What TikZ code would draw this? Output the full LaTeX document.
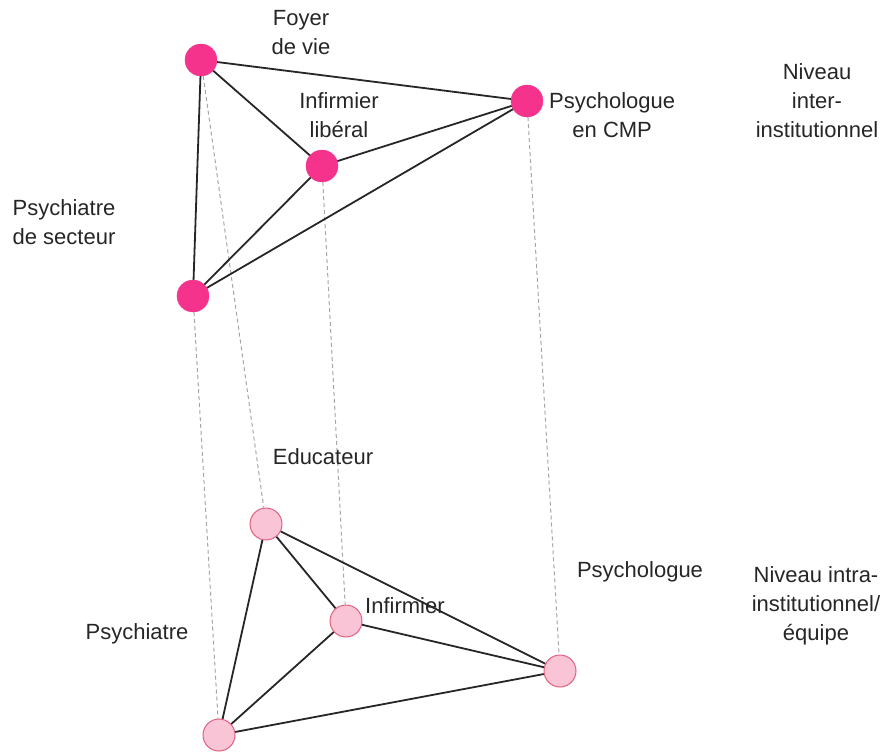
\documentclass[tikz,border=0pt]{standalone}
\usepackage{fontspec}
\setmainfont{Liberation Sans}
\begin{document}
\begin{tikzpicture}[x=1pt,y=-1pt,
  topn/.style={circle,fill=topfill,draw=topfill,minimum size=32pt,inner sep=0pt},
  botn/.style={circle,fill=botfill,draw=botdraw,line width=1pt,minimum size=32pt,inner sep=0pt},
  edge/.style={draw=black!85,line width=1.8pt},
  proj/.style={draw=gray!70,line width=1pt,dash pattern=on 4pt off 3pt},
  lbl/.style={font=\fontsize{22}{29}\selectfont,text=black!85,align=center,inner sep=0pt}]
\definecolor{topfill}{HTML}{F5338C}
\definecolor{botfill}{HTML}{F8C4D6}
\definecolor{botdraw}{HTML}{E0607E}
\useasboundingbox (0,0) rectangle (886,753);
% top level
\node[topn] (foyer) at (201,60) {};
\node[topn] (cmp) at (527,101) {};
\node[topn] (infl) at (322,166) {};
\node[topn] (psys) at (193,296) {};
% bottom level
\node[botn] (edu) at (266,524) {};
\node[botn] (inf) at (346,621) {};
\node[botn] (psyc) at (560,671) {};
\node[botn] (psyt) at (219,735) {};
% projections
\draw[proj] (foyer) -- (edu);
\draw[proj] (infl) -- (inf);
\draw[proj] (cmp) -- (psyc);
\draw[proj] (psys) -- (psyt);
% top edges
\draw[edge] (foyer) -- (cmp);
\draw[edge] (foyer) -- (infl);
\draw[edge] (foyer) -- (psys);
\draw[edge] (infl) -- (cmp);
\draw[edge] (infl) -- (psys);
\draw[edge] (psys) -- (cmp);
% bottom edges
\draw[edge] (edu) -- (inf);
\draw[edge] (edu) -- (psyc);
\draw[edge] (edu) -- (psyt);
\draw[edge] (inf) -- (psyc);
\draw[edge] (inf) -- (psyt);
\draw[edge] (psyt) -- (psyc);
% labels
\node[lbl] (lfoyer) at (301,33) {Foyer\\de vie};
\node[lbl] (linfl) at (339,115) {Infirmier\\libéral};
\node[lbl,anchor=west] (lcmp) at (549,115) {Psychologue\\en CMP};
\node[lbl] (lniv1) at (817,101) {Niveau\\inter-\\institutionnel};
\node[lbl] (lpsys) at (64,222) {Psychiatre\\de secteur};
\node[lbl] (ledu) at (323,457) {Educateur};
\node[lbl,anchor=west] (linf) at (365,606) {Infirmier};
\node[lbl] (lpsyc) at (640,572) {Psychologue};
\node[lbl] (lniv2) at (816,606) {Niveau intra-\\institutionnel/\\équipe};
\node[lbl] (lpsyt) at (137,634) {Psychiatre};
\end{tikzpicture}
\end{document}
